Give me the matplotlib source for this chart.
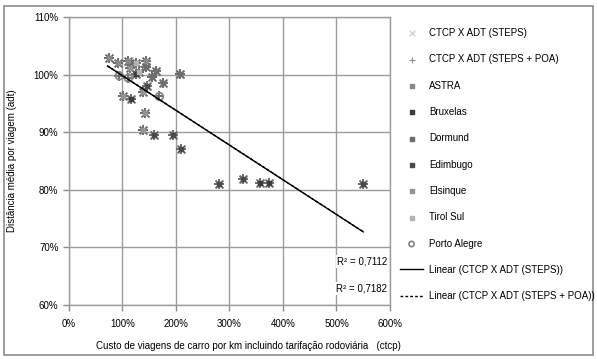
import numpy as np
import matplotlib
matplotlib.use("Agg")
import matplotlib.pyplot as plt
from matplotlib.patches import Rectangle

plt.rcParams['font.family'] = ['Liberation Sans', 'DejaVu Sans']

# city points (x = ctcp, y = adt), fractions
astra_x = [0.75, 0.92, 1.10, 1.44]
astra_y = [1.029, 1.020, 1.024, 1.024]
bruxelas_x = [1.26, 1.16, 3.57, 3.74]
bruxelas_y = [1.001, 0.957, 0.811, 0.811]
dormund_x = [1.44, 1.63, 2.07, 1.76, 1.56]
dormund_y = [1.014, 1.007, 1.001, 0.986, 0.995]
edimbugo_x = [1.45, 1.58, 1.95, 2.09, 2.80, 3.25, 5.50]
edimbugo_y = [0.981, 0.896, 0.896, 0.870, 0.810, 0.818, 0.810]
elsinque_x = [1.01, 1.39, 1.42, 1.39, 1.14]
elsinque_y = [0.962, 0.970, 0.933, 0.904, 1.011]
tirol_x = [1.26, 1.30]
tirol_y = [1.021, 1.005]
poa_x = [0.94, 1.11, 1.69]
poa_y = [0.998, 0.994, 0.962]

r2_steps = "R² = 0,7112"
r2_poa = "R² = 0,7182"

cities = [
    ("ASTRA", astra_x, astra_y, "#8a8a8a"),
    ("Bruxelas", bruxelas_x, bruxelas_y, "#3c3c3c"),
    ("Dormund", dormund_x, dormund_y, "#6e6e6e"),
    ("Edimbugo", edimbugo_x, edimbugo_y, "#4a4a4a"),
    ("Elsinque", elsinque_x, elsinque_y, "#949494"),
    ("Tirol Sul", tirol_x, tirol_y, "#b4b4b4"),
]

steps_x = np.concatenate([c[1] for c in cities])
steps_y = np.concatenate([c[2] for c in cities])
all_x = np.concatenate([steps_x, poa_x])
all_y = np.concatenate([steps_y, poa_y])

fig = plt.figure(figsize=(5.97, 3.59), dpi=100)
fig.patches.append(Rectangle((4 / 597, 4 / 359), 589 / 597, 349 / 359,
                             transform=fig.transFigure, fill=False,
                             edgecolor="#8c8c8c", linewidth=1.2))
ax = fig.add_axes([69 / 597, 54 / 359, 321 / 597, 288 / 359])

ax.scatter(steps_x, steps_y, marker="x", s=32, color="#6a6a6a",
           linewidths=1.4, zorder=3)
ax.scatter(all_x, all_y, marker="+", s=45, color="#6a6a6a",
           linewidths=1.4, zorder=3)
handles = [ax.scatter([], [], marker="x", s=16, color="#c8c8c8", linewidths=0.8),
           ax.scatter([], [], marker="+", s=22, color="#909090", linewidths=0.8)]
labels = ["CTCP X ADT (STEPS)", "CTCP X ADT (STEPS + POA)"]
for name, xs, ys, col in cities:
    ax.scatter(xs, ys, marker="s", s=9, color=col, zorder=4)
    handles.append(ax.scatter([], [], marker="s", s=7, color=col))
    labels.append(name)
ax.scatter(poa_x, poa_y, marker="o", s=30, facecolor="none",
           edgecolor="#8a8a8a", linewidths=1.3, zorder=4)
handles.append(ax.scatter([], [], marker="o", s=14, facecolor="none",
                          edgecolor="#8a8a8a", linewidths=1.3))
labels.append("Porto Alegre")

xs_line = np.array([all_x.min() * 0.96, all_x.max()])
p1 = np.polyfit(steps_x, steps_y, 1)
p2 = np.polyfit(all_x, all_y, 1)
l1, = ax.plot(xs_line, np.polyval(p1, xs_line), color="black", lw=1.0, zorder=5)
l2, = ax.plot(xs_line, np.polyval(p2, xs_line), color="black", lw=1.0,
              ls=(0, (2, 1.5)), zorder=5)
handles += [l1, l2]
labels += ["Linear (CTCP X ADT (STEPS))", "Linear (CTCP X ADT (STEPS + POA))"]

ax.set_xlim(0, 6)
ax.set_ylim(0.6, 1.1)
ax.set_xticks(np.arange(0, 7, 1))
ax.set_yticks(np.arange(0.6, 1.11, 0.1))
ax.set_xticklabels([f"{v * 100:.0f}%" for v in np.arange(0, 7, 1)])
ax.set_yticklabels([f"{v * 100:.0f}%" for v in np.arange(0.6, 1.11, 0.1)])
ax.tick_params(labelsize=7, length=4, color="#8c8c8c", width=1)
ax.tick_params(axis="x", pad=6)
ax.grid(True, color="#9c9c9c", linewidth=1)
ax.set_axisbelow(True)
for s in ax.spines.values():
    s.set_color("#9c9c9c")
    s.set_linewidth(1)

ax.set_xlabel("Custo de viagens de carro por km incluindo tarifação rodoviária   (ctcp)",
              fontsize=7, labelpad=10)
ax.xaxis.set_label_coords(0.56, -0.125)
ax.set_ylabel("Distância média por viagem (adt)", fontsize=7)
ax.yaxis.set_label_coords(-0.162, 0.5)

bb = dict(facecolor="white", edgecolor="none", pad=1)
ax.text(5.95, 0.6755, r2_steps, fontsize=7, ha="right", va="center", bbox=bb, zorder=6)
ax.text(5.95, 0.6285, r2_poa, fontsize=7, ha="right", va="center", bbox=bb, zorder=6)

fig.legend(handles, labels, loc="upper left", bbox_to_anchor=(396 / 597, 1 - 24 / 359),
           frameon=False, fontsize=7, labelspacing=1.68, handlelength=2.4,
           handletextpad=0.6, borderaxespad=0)

fig.savefig("out.png", dpi=100)
